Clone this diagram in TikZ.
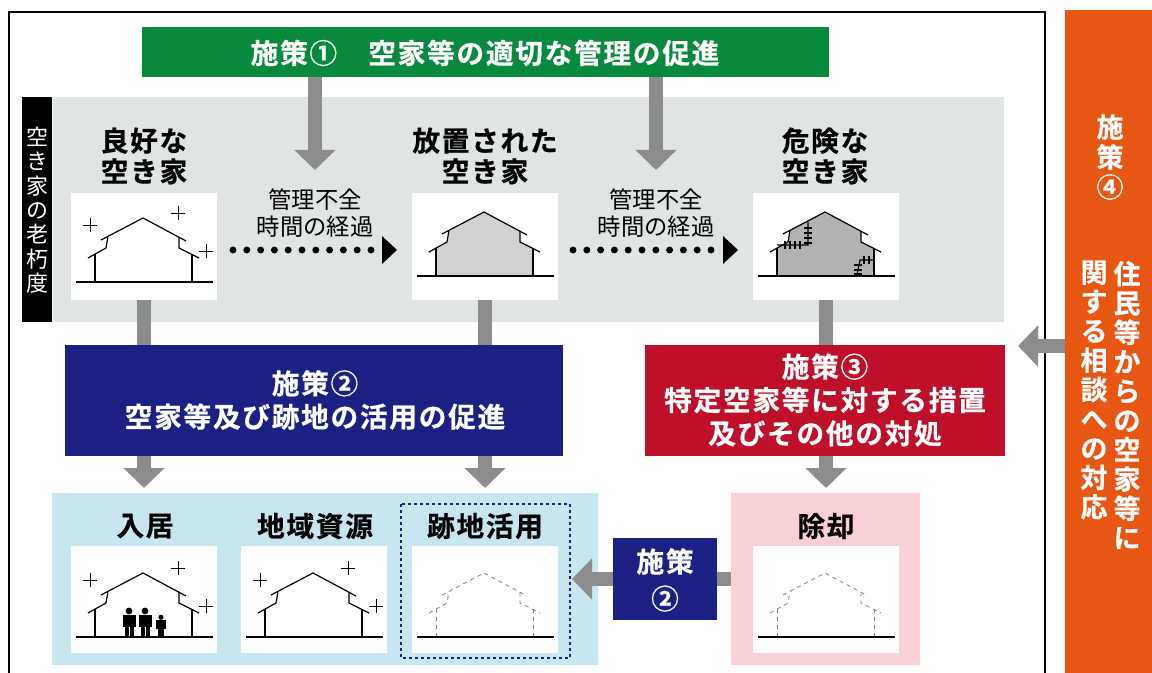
\documentclass[tikz,border=0pt]{standalone}
\usepackage{fontspec}
\setmainfont{Noto Sans CJK JP}
\newfontfamily\headfont[LetterSpace=6,FakeBold=.6]{Noto Sans CJK JP Bold}
\usetikzlibrary{arrows.meta,calc}
\definecolor{shaftgray}{RGB}{140,140,140}
\definecolor{panelgray}{RGB}{225,228,228}
\definecolor{navyblue}{RGB}{28,32,130}
\definecolor{darkred}{RGB}{190,16,40}
\definecolor{darkgreen}{RGB}{8,138,62}
\definecolor{darkorange}{RGB}{232,86,20}
\definecolor{lightblue}{RGB}{200,230,240}
\definecolor{lightpink}{RGB}{250,208,214}
\definecolor{roofgray}{RGB}{208,210,210}
\definecolor{rottengray}{RGB}{178,178,178}
\tikzset{
	box/.style={inner sep=0pt,outer sep=0pt,anchor=north west},
	head/.style={align=center,font=\headfont\fontsize{20.8}{23}\selectfont},
	banner/.style={align=center,text=white,font=\headfont\fontsize{20.8}{25}\selectfont},
	column/.style={align=center,text=white,font=\headfont\fontsize{20.3}{22}\selectfont},
	plain/.style={align=center,font=\fontsize{17.5}{20}\selectfont},
	shaft/.style={draw=shaftgray,line width=10pt},
	bigarrow/.style={draw=shaftgray,line width=10pt,-{Triangle[length=15pt,width=30pt]}},
	dotline/.style={line width=5.2pt,dash pattern=on 0pt off 10.35pt,line cap=round},
	tip/.style={fill=black,draw=none},
	crackline/.style={line width=.9pt}
}
% one white card with a house, #1 = name, #2 = x, #3 = y, #4 = fill, #5 = wall style, #6 = shift of the house
\newcommand{\housecard}[6]{
	\node[box,fill=white,minimum width=109.5pt,minimum height=80.25pt] (#1) at (#2,#3) {};
	\begin{scope}[shift={(#2,{#3+#6})}]
		\fill[#4] (24,61) -- (24,89) -- (121,89) -- (121,61) -- (108,55) -- (108,44.4) -- (72,25) -- (37,43.3) -- (35,55) -- cycle;
		\draw[#5] (24,89) -- (24,61);
		\draw[#5] (121,89) -- (121,61);
		\draw[#5] (17,65) -- (35,55) -- (37,43.3);
		\draw[#5] (30,47) -- (72,25) -- (115,48);
		\draw[#5] (108,44.4) -- (108,55) -- (128,65);
		\draw[line width=1.5pt] (5,89) -- (142,89);
	\end{scope}
}
\newcommand{\sparkles}[2]{
	\begin{scope}[shift={(#1,#2)},line width=.6pt]
		\foreach \sx/\sy in {19/32,107/20,135/58}
			{\draw (\sx-7,\sy) -- (\sx+7,\sy) (\sx,\sy-7) -- (\sx,\sy+7);}
	\end{scope}
}
\newcommand{\person}[3]{
	\begin{scope}[shift={(#1,#2)},scale=#3]
		\fill (0,-25) circle (3.4);
		\fill (-6.5,-21) rectangle (6.5,-9);
		\fill (-4.5,-9) rectangle (-.5,0);
		\fill (.5,-9) rectangle (4.5,0);
	\end{scope}
}
\begin{document}
\begin{tikzpicture}[x=.75pt,y=-.75pt]
	\useasboundingbox (0,0) rectangle (1152,673);
	% frame
	\draw[line width=.9pt] (9,673) -- (9,12) -- (1045,12) -- (1045,673);
	\node[box,fill=darkorange,minimum width=65.25pt,minimum height=497.25pt] (orange) at (1065,10) {};
	\node[box,fill=panelgray,minimum width=713.25pt,minimum height=168.75pt] (panel) at (53,97) {};
	\node[box,fill=black,minimum width=22.5pt,minimum height=168.75pt] (agebar) at (22,97) {};
	\node[box,fill=darkgreen,minimum width=515.25pt,minimum height=37.5pt] (green) at (142,27) {};
	\node[box,fill=navyblue,minimum width=373.5pt,minimum height=83.25pt] (blue) at (65,345) {};
	\node[box,fill=darkred,minimum width=270pt,minimum height=83.25pt] (red) at (645,345) {};
	\node[box,fill=lightblue,minimum width=409.5pt,minimum height=129pt] (reuse) at (52,493) {};
	\node[box,fill=lightpink,minimum width=141.75pt,minimum height=129pt] (demolish) at (731,493) {};
	\node[box,fill=navyblue,minimum width=78pt,minimum height=61.5pt] (smallblue) at (613,538) {};

	% cards
	\housecard{good}{71}{193}{white}{line width=.9pt}{0}
	\sparkles{71}{193}
	\housecard{left}{412}{193}{roofgray}{line width=.9pt}{-6}
	\housecard{danger}{753}{193}{rottengray}{line width=.9pt}{-6}
	\housecard{move}{71}{546}{white}{line width=.9pt}{2}
	\sparkles{71}{548}
	\person{129}{636}{1}
	\person{145}{636}{1}
	\person{161}{636}{.75}
	\housecard{local}{241}{546}{white}{line width=.9pt}{2}
	\sparkles{241}{548}
	\housecard{site}{412}{546}{white}{line width=.6pt,dashed,draw=gray}{2}
	\housecard{gone}{753}{546}{white}{line width=.6pt,dashed,draw=gray}{2}
	\draw[navyblue,line width=1.5pt,dash pattern=on 2pt off 2.5pt] (401,504) rectangle (570,658);

	% cracks in the third house
	\draw[crackline] (777,245) -- (808,245) -- (808,222) (874,260) -- (860,260) -- (857,275);
	\foreach \cx in {785,790,795,800} {\draw[crackline] (\cx,241) -- (\cx,249);}
	\foreach \cy in {228,233,238,243} {\draw[crackline] (804,\cy) -- (812,\cy);}
	\foreach \cx in {864,869} {\draw[crackline] (\cx,256) -- (\cx,264);}
	\foreach \cy in {265,270,274} {\draw[crackline] (854,\cy) -- (862,\cy);}

	% arrows
	\coordinate (g1) at (315,77);
	\coordinate (g2) at (656,77);
	\coordinate (e1) at (315,170);
	\coordinate (e2) at (656,170);
	\coordinate (e3) at (572,579);
	\coordinate (e4) at (1018,346);
	\draw[bigarrow] (g1) -- (e1);
	\draw[bigarrow] (g2) -- (e2);
	\draw[shaft] (good.south) -- (good.south |- blue.north);
	\draw[shaft] (left.south) -- (left.south |- blue.north);
	\draw[shaft] (danger.south) -- (danger.south |- red.north);
	\draw[bigarrow] (good.south |- blue.south) -- ($(good.south |- reuse.north)+(0,-5)$);
	\draw[bigarrow] (left.south |- blue.south) -- ($(left.south |- reuse.north)+(0,-5)$);
	\draw[bigarrow] (danger.south |- red.south) -- ($(danger.south |- demolish.north)+(0,-5)$);
	\draw[shaft] (demolish.west |- smallblue.east) -- (smallblue.east);
	\draw[bigarrow] (smallblue.west) -- (e3);
	\draw[bigarrow] (orange.west |- e4) -- (e4);

	% dotted arrows
	\coordinate (d1) at (233,250);
	\coordinate (d2) at (573,250);
	\coordinate (d3) at (376,250);
	\coordinate (d4) at (716,250);
	\draw[dotline] (d1) -- (d3);
	\draw[dotline] (d2) -- (d4);
	\fill[tip] (382,236) -- (397,250) -- (382,264) -- cycle;
	\fill[tip] (723,236) -- (738,250) -- (723,264) -- cycle;

	% texts
	\node[banner] (t1) at (485,53) {施策①　空家等の適切な管理の促進};
	\node[head] (t2) at (144,156) {良好な\\空き家};
	\node[head] (t3) at (485,156) {放置された\\空き家};
	\node[head] (t4) at (825,156) {危険な\\空き家};
	\node[plain] (t5) at (315,213) {管理不全\\時間の経過};
	\node[plain] (t6) at (656,213) {管理不全\\時間の経過};
	\node[banner] (t7) at (315,400) {施策②\\空家等及び跡地の活用の促進};
	\node[banner] (t8) at (825,400) {施策③\\特定空家等に対する措置\\及びその他の対処};
	\node[head] (t9) at (145,526) {入居};
	\node[head] (t10) at (315,526) {地域資源};
	\node[head] (t11) at (485,526) {跡地活用};
	\node[head] (t12) at (826,526) {除却};
	\node[banner,font=\headfont\fontsize{20.8}{27.75}\selectfont] (t13) at (665,580) {施策\\②};
	\node[align=center,text=white,font=\fontsize{16.5}{18.25}\selectfont] (t14) at (37.5,210) {空\\き\\家\\の\\老\\朽\\度};
	\node[column,font=\headfont\fontsize{20.3}{22.5}\selectfont] (t15) at (1110,157) {施\\策\\④};
	\node[column] (t16) at (1127,405) {住\\民\\等\\か\\ら\\の\\空\\家\\等\\に};
	\node[column] (t17) at (1094,390) {関\\す\\る\\相\\談\\へ\\の\\対\\応};
\end{tikzpicture}
\end{document}
